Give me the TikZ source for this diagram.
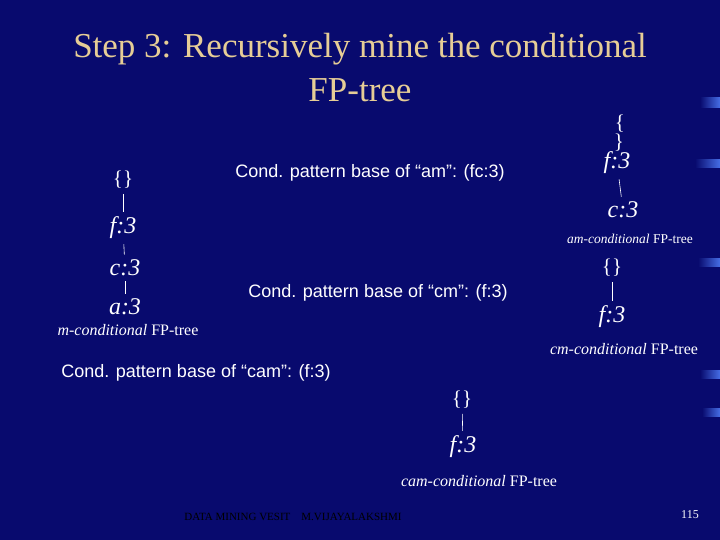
\documentclass[tikz,border=0pt]{standalone}
\usepackage{fontspec}
\setmainfont{Liberation Serif}
\newfontfamily\arialf{Liberation Sans}
\begin{document}
\begin{tikzpicture}[x=1pt,y=-1pt,
  tl/.style={text=white,font=\fontsize{24}{26}\selectfont\itshape,inner sep=1pt},
  br/.style={text=white,font=\fontsize{21}{23}\selectfont,inner sep=1pt},
  captxt/.style={text=white,font=\fontsize{16}{18}\selectfont},
  cond/.style={text=white,font=\arialf\fontsize{18}{20}\selectfont},
  edge/.style={white,line width=0.6pt,shorten <=4pt,shorten >=4pt}]
\definecolor{bgblue}{RGB}{8,10,110}
\definecolor{titlec}{RGB}{230,205,150}
\definecolor{streak}{RGB}{70,110,230}
\fill[bgblue] (0,0) rectangle (720,540);
\shade[left color=bgblue,right color=streak] (700,98) rectangle (720,108);
\shade[left color=bgblue,right color=streak] (695,160) rectangle (720,168);
\shade[left color=bgblue,right color=streak] (698,258) rectangle (720,266);
\shade[left color=bgblue,right color=streak] (700,370) rectangle (720,378);
\shade[left color=bgblue,right color=streak] (702,408) rectangle (720,416);
\node[text=titlec,font=\fontsize{35}{44}\selectfont,align=center] (title) at (360,68) {Step 3: Recursively mine the conditional\\FP-tree};
% m-conditional tree
\node[br] (m0) at (123,180) {\{\}};
\node[tl] (m1) at (123,228) {f:3};
\node[tl] (m2) at (125,268) {c:3};
\node[tl] (m3) at (125,307) {a:3};
\draw[edge] (m0) -- (m1); \draw[edge] (m1) -- (m2); \draw[edge] (m2) -- (m3);
\node[captxt] (mc) at (128,330) {\textit{m-conditional} FP-tree};
\node[cond] (c1) at (370,173) {Cond. pattern base of “am”: (fc:3)};
\node[cond] (c2) at (378,293) {Cond. pattern base of “cm”: (f:3)};
\node[cond] (c3) at (196,373) {Cond. pattern base of “cam”: (f:3)};
% am tree
\node[br] (a0) at (620,124) {\{};
\node[br] (a0b) at (619,143) {\}};
\node[tl] (a1) at (617,163) {f:3};
\node[tl] (a2) at (623,210) {c:3};
\draw[edge] (a1) -- (a2);
\node[captxt,font=\fontsize{13.5}{15}\selectfont] (ac) at (630,239) {\textit{am-conditional} FP-tree};
% cm tree
\node[br] (b0) at (612,268) {\{\}};
\node[tl] (b1) at (612,317) {f:3};
\draw[edge] (b0) -- (b1);
\node[captxt] (bc) at (624,349) {\textit{cm-conditional} FP-tree};
% cam tree
\node[br] (d0) at (462,400) {\{\}};
\node[tl] (d1) at (463,447) {f:3};
\draw[edge] (d0) -- (d1);
\node[captxt] (dc) at (479,481) {\textit{cam-conditional} FP-tree};
\node[text=black,font=\fontsize{11}{13}\selectfont] (ft) at (293,517) {DATA MINING VESIT\quad M.VIJAYALAKSHMI};
\node[text=white,font=\fontsize{12}{14}\selectfont] (pg) at (690,515) {115};
\end{tikzpicture}
\end{document}
